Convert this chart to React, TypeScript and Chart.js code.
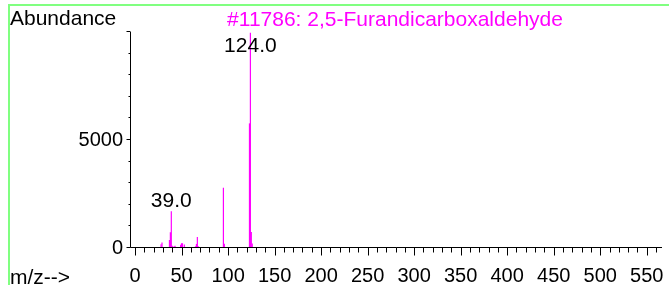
import React, { useEffect, useRef } from 'react';
import { Chart, registerables } from 'chart.js';

Chart.register(...registerables);

// ---- data ----
const mzValues = [28, 29, 37, 38, 39, 40, 42, 43, 49, 50, 51, 53, 65, 66, 67, 68, 95, 96, 123, 124, 125, 126];
const abundances = [170, 260, 370, 730, 1700, 100, 80, 100, 150, 220, 220, 160, 80, 190, 510, 80, 2790, 200, 5770, 9960, 740, 210];
const labeledPeaks = [124, 39];
const xTickLabels = [0, 50, 100, 150, 200, 250, 300, 350, 400, 450, 500, 550];
const xMinorStep = 10;
const yTickLabels = [0, 5000];
const yMinorStep = 1000;
const titleText = '#11786: 2,5-Furandicarboxaldehyde';
const yAxisTitle = 'Abundance';
const xAxisTitle = 'm/z-->';

const X_MIN = -5.4;
const X_MAX = 566.4;
const Y_MIN = 0;
const Y_MAX = 10000;

const FONT = '"Liberation Sans", Arial, Helvetica, sans-serif';
const MAGENTA = '#ff00ff';
const GREEN = 'rgb(128,255,128)';

const decorPlugin = {
  id: 'decor',
  afterDatasetsDraw(chart: any) {
    const ctx = chart.ctx as CanvasRenderingContext2D;
    const xs = chart.scales.x;
    const ys = chart.scales.y;
    const area = chart.chartArea;
    ctx.save();

    // green frame
    ctx.strokeStyle = GREEN;
    ctx.lineWidth = 2;
    ctx.beginPath();
    ctx.moveTo(8, 5);
    ctx.lineTo(chart.width, 5);
    ctx.moveTo(9, 4);
    ctx.lineTo(9, chart.height);
    ctx.stroke();

    // axes
    ctx.strokeStyle = '#000';
    ctx.lineWidth = 1;
    const axX = Math.round(area.left) + 0.5;
    const axY = Math.round(ys.getPixelForValue(0)) - 0.5;
    ctx.beginPath();
    ctx.moveTo(axX, Math.round(area.top));
    ctx.lineTo(axX, axY);
    ctx.moveTo(axX, axY);
    ctx.lineTo(Math.round(area.right), axY);
    ctx.stroke();

    // x ticks
    ctx.beginPath();
    for (let v = 0; v <= X_MAX; v += xMinorStep) {
      const px = Math.round(xs.getPixelForValue(v)) + 0.5;
      const major = v % 50 === 0;
      ctx.moveTo(px, axY);
      ctx.lineTo(px, axY + (major ? 8 : 5));
    }
    // y ticks
    for (let v = 0; v <= Y_MAX; v += yMinorStep) {
      const py = Math.round(ys.getPixelForValue(v)) - 0.5;
      const major = v % 5000 === 0;
      ctx.moveTo(axX, py);
      ctx.lineTo(axX - (major ? 4 : 2), py);
    }
    ctx.stroke();

    // tick labels
    ctx.fillStyle = '#000';
    ctx.font = `20px ${FONT}`;
    ctx.textAlign = 'center';
    ctx.textBaseline = 'alphabetic';
    xTickLabels.forEach((v) => {
      ctx.fillText(String(v), xs.getPixelForValue(v), 282);
    });
    ctx.textAlign = 'right';
    ctx.textBaseline = 'middle';
    yTickLabels.forEach((v) => {
      ctx.fillText(String(v), area.left - 7, ys.getPixelForValue(v));
    });

    // axis titles
    ctx.font = `21px ${FONT}`;
    ctx.textAlign = 'left';
    ctx.textBaseline = 'alphabetic';
    ctx.fillText(yAxisTitle, 10, 25);
    ctx.fillText(xAxisTitle, 10, 284);

    // title
    ctx.fillStyle = MAGENTA;
    ctx.textAlign = 'center';
    ctx.fillText(titleText, 395, 26);

    // peak labels
    ctx.fillStyle = '#000';
    ctx.font = `21px ${FONT}`;
    ctx.textAlign = 'center';
    labeledPeaks.forEach((mz) => {
      const i = mzValues.indexOf(mz);
      if (i < 0) return;
      const px = xs.getPixelForValue(mz);
      const py = ys.getPixelForValue(abundances[i]);
      const base = Math.max(py - 4, area.top + 20);
      ctx.fillText(mz.toFixed(1), px, base);
    });

    ctx.restore();
  },
};

export default function App() {
  const canvasRef = useRef<HTMLCanvasElement | null>(null);

  useEffect(() => {
    if (!canvasRef.current) return;
    const chart = new Chart(canvasRef.current, {
      type: 'bar',
      data: {
        datasets: [
          {
            data: mzValues.map((x, i) => ({ x, y: abundances[i] })),
            backgroundColor: MAGENTA,
            borderWidth: 0,
            barThickness: 1.2,
            inflateAmount: 0,
          } as any,
        ],
      },
      options: {
        animation: false,
        responsive: false,
        devicePixelRatio: 1,
        layout: { padding: { left: 0, right: 7, top: 32, bottom: 0 } },
        plugins: { legend: { display: false }, tooltip: { enabled: false } },
        scales: {
          x: {
            type: 'linear',
            min: X_MIN,
            max: X_MAX,
            offset: false,
            ticks: { display: false },
            grid: { display: false, offset: false },
            border: { display: false },
            afterFit: (s: any) => {
              s.height = 37;
            },
          },
          y: {
            min: Y_MIN,
            max: Y_MAX,
            ticks: { display: false },
            grid: { display: false },
            border: { display: false },
            afterFit: (s: any) => {
              s.width = 130;
            },
          },
        },
      },
      plugins: [decorPlugin],
    });
    return () => chart.destroy();
  }, []);

  return (
    <div style={{ position: 'fixed', left: 0, top: 0, width: 669, height: 285, background: '#fff' }}>
      <canvas ref={canvasRef} width={669} height={285} style={{ display: 'block', width: 669, height: 285 }} />
    </div>
  );
}
